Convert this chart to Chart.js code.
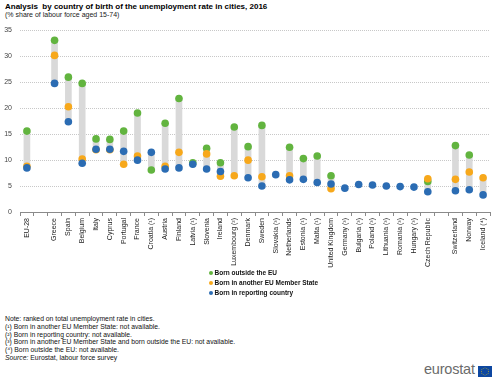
<!DOCTYPE html>
<html>
<head>
<meta charset="utf-8">
<script src="https://cdn.jsdelivr.net/npm/chart.js@4/dist/chart.umd.min.js"></script>
<style>
  html,body{margin:0;padding:0;background:#fff;}
  body{width:500px;height:386px;position:relative;overflow:hidden;font-family:"Liberation Sans",Arial,sans-serif;color:#000;}
  #title{position:absolute;left:5px;top:2px;font-size:8px;font-weight:bold;white-space:pre;}
  #sub{position:absolute;left:5px;top:11px;font-size:7px;color:#222;}
  #wrap{position:absolute;left:0;top:0;width:500px;height:275px;}
  .leg{position:absolute;left:209px;font-size:6.5px;font-weight:bold;color:#111;white-space:nowrap;}
  .leg i{display:inline-block;width:4px;height:4px;border-radius:50%;margin-right:1.5px;vertical-align:middle;position:relative;top:-0.5px;}
  #notes{position:absolute;left:5px;top:315px;font-size:6.8px;line-height:7.75px;color:#111;}
  #logo{position:absolute;left:424px;top:361px;font-size:14.5px;color:#6b6b6b;letter-spacing:-0.2px;}
  #flag{position:absolute;left:478px;top:366px;}
</style>
</head>
<body>
<div id="title">Analysis  by country of birth of the unemployment rate in cities, 2016</div>
<div id="sub">(% share of labour force aged 15-74)</div>
<div id="wrap"><canvas id="c" width="500" height="275"></canvas></div>
<div class="leg" style="top:269px"><i style="background:#62b43f"></i>Born outside the EU</div>
<div class="leg" style="top:279px"><i style="background:#f7a81b"></i>Born in another EU Member State</div>
<div class="leg" style="top:289px"><i style="background:#2b6cb3"></i>Born in reporting country</div>
<div id="notes">Note: ranked on total unemployment rate in cities.<br>(¹) Born in another EU Member State: not available.<br>(²) Born in reporting country: not available.<br>(³) Born in another EU Member State and born outside the EU: not available.<br>(⁴) Born outside the EU: not available.<br><i>Source:</i>  Eurostat, labour force survey</div>
<div id="logo">eurostat</div>
<svg id="flag" width="14" height="11" viewBox="0 0 14 11">
  <rect width="14" height="11" fill="#0d47a1"/>
  <g fill="#ffd500" id="stars"></g>
</svg>
<script>
const categories = ['EU-28','','Greece','Spain','Belgium','Italy','Cyprus','Portugal','France','Croatia (¹)','Austria','Finland','Latvia (¹)','Slovenia','Ireland','Luxembourg (²)','Denmark','Sweden','Slovakia (³)','Netherlands','Estonia (¹)','Malta (¹)','United Kingdom','Germany (³)','Bulgaria (³)','Poland (³)','Lithuania (³)','Romania (³)','Hungary (³)','Czech Republic','','Switzerland','Norway','Iceland (⁴)'];
const bornOutsideEU = [15.6,null,33.1,26.0,24.8,14.1,14.0,15.6,19.1,8.1,17.1,21.9,9.5,12.3,9.5,16.4,12.6,16.7,null,12.5,10.3,10.8,7.0,null,null,null,null,null,null,5.9,null,12.8,11.0,null];
const bornOtherEU   = [8.8,null,30.2,20.3,10.2,12.0,12.0,9.2,10.8,null,8.8,11.5,null,11.2,6.9,7.0,10.0,6.8,null,7.0,null,null,4.5,null,null,null,null,null,null,6.4,null,6.3,7.7,6.6];
const bornReporting = [8.5,null,24.8,17.4,9.4,12.1,12.1,11.7,10.0,11.5,8.3,8.5,9.2,8.3,7.8,null,6.6,5.0,7.2,6.2,6.3,5.7,5.4,4.6,5.3,5.2,5.0,4.9,4.8,3.9,null,4.1,4.3,3.3];
const yTicks = [0,5,10,15,20,25,30,35];

(function(){
  const g=document.getElementById('stars');
  for(let k=0;k<12;k++){
    const a=k*Math.PI/6;
    const c=document.createElementNS('http://www.w3.org/2000/svg','circle');
    c.setAttribute('cx',(7+3.6*Math.cos(a)).toFixed(2));
    c.setAttribute('cy',(5.5+3.6*Math.sin(a)).toFixed(2));
    c.setAttribute('r','0.45');
    g.appendChild(c);
  }
})();

const ranges = categories.map((_,i)=>{
  const v=[bornOutsideEU[i],bornOtherEU[i],bornReporting[i]].filter(x=>x!==null);
  return v.length>=2 ? [Math.min(...v),Math.max(...v)] : null;
});

const pt = (label,data,color,order)=>({
  type:'line', label, data, showLine:false, order,
  pointRadius:3.8, pointHoverRadius:3.8, pointBorderWidth:0,
  pointBackgroundColor:color, borderColor:color, backgroundColor:color
});

new Chart(document.getElementById('c'),{
  type:'bar',
  data:{
    labels:categories,
    datasets:[
      {type:'bar',label:'range',data:ranges,backgroundColor:'#d9d9d9',barThickness:6,order:10,borderWidth:0},
      pt('Born outside the EU',bornOutsideEU,'#62b43f',3),
      pt('Born in another EU Member State',bornOtherEU,'#f7a81b',2),
      pt('Born in reporting country',bornReporting,'#2b6cb3',1)
    ]
  },
  options:{
    responsive:false, animation:false, events:[],
    layout:{padding:{left:0,right:10,top:30.5,bottom:0}},
    plugins:{legend:{display:false},tooltip:{enabled:false}},
    scales:{
      x:{
        offset:true,
        grid:{offset:true,drawOnChartArea:false,drawTicks:true,tickLength:4,color:'#8a8a8a'},
        border:{display:true,color:'#8a8a8a',width:1},
        ticks:{autoSkip:false,maxRotation:90,minRotation:90,padding:2,color:'#222',font:{family:'Liberation Sans',size:7}},
        afterFit:(s)=>{s.height=63;}
      },
      y:{
        min:0,max:35,
        afterBuildTicks:(s)=>{s.ticks=yTicks.map(v=>({value:v}));},
        grid:{color:'#c8c8c8',drawTicks:false,lineWidth:1},
        border:{display:false,dash:[1,1]},
        ticks:{padding:8,color:'#444',font:{family:'Liberation Sans',size:7}},
        afterFit:(s)=>{s.width=20;}
      }
    }
  }
});
</script>
</body>
</html>
